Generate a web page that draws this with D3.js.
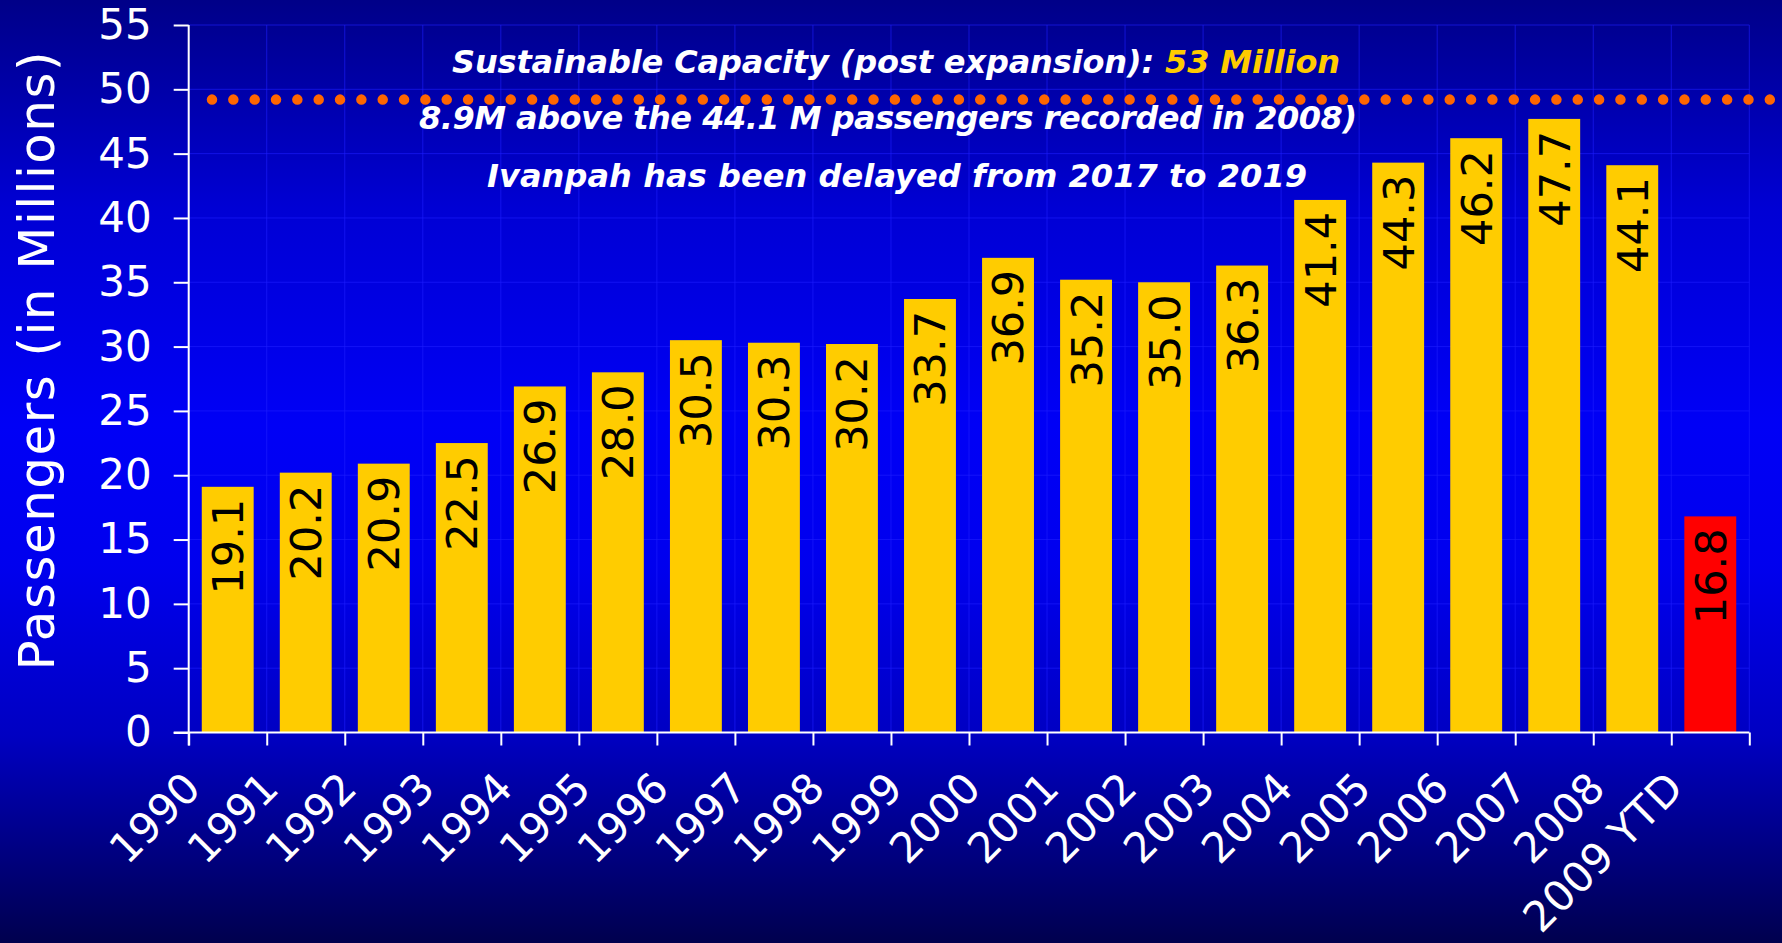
<!DOCTYPE html>
<html>
<head>
<meta charset="utf-8">
<script src="https://cdn.jsdelivr.net/npm/d3@7"></script>
<style>
  html, body { margin: 0; padding: 0; background: #000080; }
  svg { display: block; }
</style>
</head>
<body>
<script>
// ---- data ----
const categories = ["1990","1991","1992","1993","1994","1995","1996","1997","1998","1999",
                    "2000","2001","2002","2003","2004","2005","2006","2007","2008","2009 YTD"];
const passengers = [19.1,20.2,20.9,22.5,26.9,28.0,30.5,30.3,30.2,33.7,
                    36.9,35.2,35.0,36.3,41.4,44.3,46.2,47.7,44.1,16.8];
const highlight = ["2009 YTD"];
const yTicks = [0,5,10,15,20,25,30,35,40,45,50,55];
const capacityLine = 49.2;
const yTitle = "Passengers (in Millions)";
const noteLine1a = "Sustainable Capacity (post expansion): ";
const noteLine1b = "53 Million";
const noteLine2 = "8.9M above the 44.1 M passengers recorded in 2008)";
const noteLine3 = "Ivanpah has been delayed from 2017 to 2019";

// ---- layout ----
const W = 1782, H = 943;
const plot = { left: 188.7, right: 1749.3, top: 25, bottom: 732.5 };
const FONT = "'DejaVu Sans', Verdana, sans-serif";

const svg = d3.select("body").append("svg").attr("width", W).attr("height", H);

const defs = svg.append("defs");
const grad = defs.append("linearGradient").attr("id","bg").attr("x1",0).attr("y1",0).attr("x2",0).attr("y2",1);
[[0,"#000088"],[0.22,"#0000d4"],[0.45,"#0000f6"],[0.6,"#0000ee"],[0.78,"#0000c2"],[1,"#00004e"]]
  .forEach(([o,c]) => grad.append("stop").attr("offset",o).attr("stop-color",c));
svg.append("rect").attr("width",W).attr("height",H).attr("fill","url(#bg)");

const x = d3.scaleBand().domain(categories).range([plot.left, plot.right]).paddingInner(0.335).paddingOuter(0.1675);
const xb = d3.scaleLinear().domain([0, categories.length]).range([plot.left, plot.right]);
const y = d3.scaleLinear().domain([0,55]).range([plot.bottom, plot.top]);

// gridlines
const grid = svg.append("g").attr("stroke","rgb(30,30,255)").attr("stroke-opacity",0.6).attr("stroke-width",1);
grid.selectAll("line.h").data(yTicks.filter(d=>d>0)).join("line")
  .attr("x1", plot.left).attr("x2", plot.right).attr("y1", d=>y(d)).attr("y2", d=>y(d));
grid.selectAll("line.v").data(d3.range(1, categories.length+1)).join("line")
  .attr("x1", d=>xb(d)).attr("x2", d=>xb(d)).attr("y1", plot.top).attr("y2", plot.bottom);

// bars
svg.append("g").selectAll("rect").data(categories).join("rect")
  .attr("x", d=>x(d)).attr("width", x.bandwidth())
  .attr("y", (d,i)=>y(passengers[i])).attr("height", (d,i)=>y(0)-y(passengers[i]))
  .attr("fill", d=> highlight.includes(d) ? "#ff0000" : "#ffcc00");

// bar labels
svg.append("g").selectAll("text").data(categories).join("text")
  .attr("transform", (d,i)=>`translate(${x(d)+x.bandwidth()/2},${y(passengers[i])+12}) rotate(-90)`)
  .attr("text-anchor","end").attr("dy","0.36em")
  .attr("font-family",FONT).attr("font-size",43)
  .attr("fill","#000")
  .text((d,i)=>passengers[i].toFixed(1));

// axes
const axisColor = "#ffffff";
const yAxis = svg.append("g").attr("transform",`translate(${plot.left},0)`)
  .call(d3.axisLeft(y).tickValues(yTicks).tickSize(15).tickPadding(22).tickFormat(d3.format("d")));
yAxis.select(".domain").remove();
yAxis.selectAll(".tick line").attr("stroke",axisColor).attr("stroke-width",2);
yAxis.selectAll(".tick text").attr("fill","#fff").attr("font-family",FONT).attr("font-size",42);
yAxis.append("line").attr("x1",0).attr("x2",0).attr("y1",plot.top).attr("y2",plot.bottom+13)
  .attr("stroke",axisColor).attr("stroke-width",2);

const xAxis = svg.append("g").attr("transform",`translate(0,${plot.bottom})`)
  .call(d3.axisBottom(xb).tickValues(d3.range(0, categories.length+1)).tickSize(13).tickFormat(""));
xAxis.select(".domain").remove();
xAxis.selectAll(".tick line").attr("stroke",axisColor).attr("stroke-width",2);
xAxis.append("line").attr("x1",plot.left-15).attr("x2",plot.right).attr("y1",0).attr("y2",0)
  .attr("stroke",axisColor).attr("stroke-width",2);

// x labels
svg.append("g").selectAll("text").data(categories).join("text")
  .attr("transform", d=>`translate(${x(d)+x.bandwidth()/2-25},${plot.bottom+58}) rotate(-45)`)
  .attr("text-anchor","end")
  .attr("font-family",FONT).attr("font-size",42)
  .attr("fill","#fff").text(d=>d);

// y title
svg.append("text").attr("transform",`translate(54,361) rotate(-90)`)
  .attr("text-anchor","middle").attr("font-family",FONT)
  .attr("font-size",50).attr("textLength",619).attr("lengthAdjust","spacing")
  .attr("fill","#fff").text(yTitle);

// capacity dotted line
svg.append("line").attr("x1",212).attr("x2",1775).attr("y1",y(capacityLine)).attr("y2",y(capacityLine))
  .attr("stroke","#ff6600").attr("stroke-width",10.5).attr("stroke-linecap","round")
  .attr("stroke-dasharray","0 21.34");

// notes
function note(xc, yb, len) {
  return svg.append("text").attr("x",xc).attr("y",yb).attr("text-anchor","middle")
    .attr("font-family",FONT).attr("font-size",32)
    .attr("font-weight","bold").attr("font-style","italic")
    .attr("textLength",len).attr("lengthAdjust","spacing");
}
const t1 = note(896, 72.7, 888);
t1.append("tspan").attr("fill","#fff").text(noteLine1a);
t1.append("tspan").attr("fill","#ffcc00").text(noteLine1b);
note(888, 129.3, 938).attr("fill","#fff").text(noteLine2);
note(897, 186.7, 820).attr("fill","#fff").text(noteLine3);
</script>
</body>
</html>
